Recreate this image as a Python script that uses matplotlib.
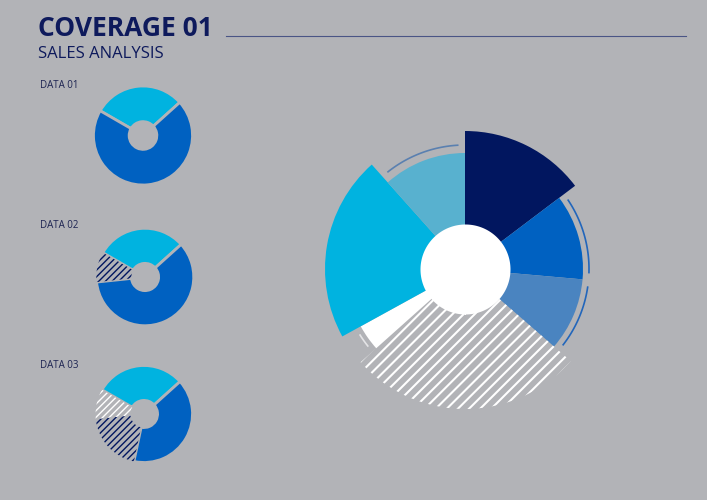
import numpy as np
import matplotlib
matplotlib.use("Agg")
import matplotlib.pyplot as plt

# colours
bg = '#b2b3b7'
navy = '#01165f'
blue = '#0061c1'
steel = '#4a84c0'
cyan = '#00b3e0'
light_blue = '#58b1cf'
text_navy = '#0e1a5c'

# small donuts (clockwise from the cyan slice)
small_labels = ['DATA 01', 'DATA 02', 'DATA 03']
data01 = [30, 70]
data02 = [30, 60, 10]
data03 = [30, 40, 20, 10]
small_colors = [cyan, blue, navy, 'white']
small_hatched = [False, False, True, True]

# big radial chart (clockwise from 12 o'clock)
big_shares = [14.7, 11.7, 10.0, 27.0, 3.6, 21.4, 11.6]
big_lengths = [138, 118, 118, 140, 119, 140, 116]
big_colors = [navy, blue, steel, 'none', 'white', cyan, light_blue]
big_hatch = [None, None, None, '///', None, None, None]
arc_colors = [None, '#2266bb', '#2266bb', None, '#e4e4e6', None, '#5a80b0']
inner_radius = 45
arc_radius = 124

W, H = 707, 500
fig = plt.figure(figsize=(W / 100, H / 100), dpi=100)
fig.patch.set_facecolor(bg)

# header
fig.text(38 / W, 1 - 36 / H, 'COVERAGE 01', fontsize=19, fontweight='bold',
         family='Open Sans', color=text_navy, va='baseline')
fig.text(38 / W, 1 - 58 / H, 'SALES ANALYSIS', fontsize=12,
         family='Open Sans', color=text_navy, va='baseline')
fig.add_artist(plt.Line2D([226 / W, 686 / W], [1 - 35.5 / H, 1 - 35.5 / H],
                          color='#4a5585', lw=0.8))


def small_donut(values, cx, cy, r, label, ly):
    ax = fig.add_axes([(cx - r) / W, 1 - (cy + r) / H, 2 * r / W, 2 * r / H])
    wedges, _ = ax.pie(values, colors=small_colors[:len(values)], startangle=150,
                       counterclock=False,
                       wedgeprops=dict(width=0.72, edgecolor=bg, linewidth=2))
    for w, hatched in zip(wedges, small_hatched):
        if hatched:
            c = w.get_facecolor()
            w.set_facecolor('none')
            w.set_edgecolor(c)
            w.set_linewidth(0)
            w.set_hatch('/////')
            if hasattr(w, 'set_hatch_linewidth'):
                w.set_hatch_linewidth(1.0)
    ax.set_xlim(-1, 1)
    ax.set_ylim(-1, 1)
    ax.axis('off')
    fig.text(40 / W, 1 - ly / H, label, fontsize=7, family='Open Sans',
             color='#1d2452', va='center')


small_donut(data01, 143, 135.5, 49.5, small_labels[0], 86)
small_donut(data02, 145, 277, 48.7, small_labels[1], 226)
small_donut(data03, 144, 414, 48.5, small_labels[2], 366)

# big chart
cx, cy, half = 465, 269, 150
pax = fig.add_axes([(cx - half) / W, 1 - (cy + half) / H, 2 * half / W, 2 * half / H],
                   projection='polar')
pax.set_theta_zero_location('N')
pax.set_theta_direction(-1)
pax.set_ylim(0, half)

widths = np.deg2rad(np.array(big_shares) / sum(big_shares) * 360)
starts = np.concatenate([[0], np.cumsum(widths)[:-1]])

for st, wd, ln, col, hatch, ac in zip(starts, widths, big_lengths, big_colors,
                                      big_hatch, arc_colors):
    if hatch:
        bars = pax.bar(st, ln, width=wd, bottom=0, align='edge', facecolor='none',
                       edgecolor='white', linewidth=0, hatch=hatch)
        if hasattr(bars[0], 'set_hatch_linewidth'):
            bars[0].set_hatch_linewidth(1.5)
    else:
        pax.bar(st, ln, width=wd, bottom=0, align='edge', color=col, linewidth=0)
    if ac:
        inset = np.deg2rad(3)
        t = np.linspace(st + inset, st + wd - inset, 60)
        pax.plot(t, np.full_like(t, arc_radius), color=ac, lw=1.2,
                 solid_capstyle='butt')

t = np.linspace(0, 2 * np.pi, 200)
pax.fill_between(t, 0, inner_radius, color='white', lw=0)
pax.axis('off')

fig.savefig('out.png', dpi=100, facecolor=bg)
